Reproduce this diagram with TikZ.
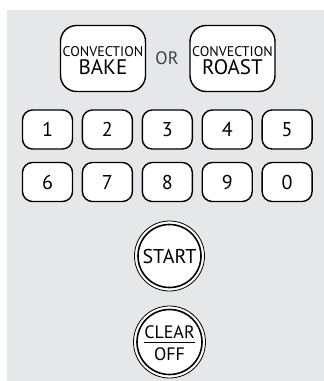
\documentclass[tikz,border=0pt]{standalone}
\usepackage{fontspec}
\setmainfont{PT Sans}
\definecolor{panel}{HTML}{E6E7E8}
\definecolor{ortext}{HTML}{404041}

\begin{document}
\begin{tikzpicture}[
    x=1pt, y=-1pt,
    bigkey/.style={draw, rectangle, rounded corners=16pt, fill=white, line width=1.4pt, minimum width=85pt, minimum height=66pt, inner sep=0pt},
    smalltext/.style={inner sep=0pt, font=\fontsize{14}{14}\selectfont},
    keytext/.style={inner sep=0pt, font=\fontsize{21}{21}\selectfont},
    numkey/.style={draw, rectangle, rounded corners=10pt, fill=white, line width=1.4pt, minimum width=50pt, minimum height=39pt, font=\fontsize{20}{20}\selectfont},
    roundkey/.style={draw, circle, fill=white, line width=0.8pt, minimum size=70pt, inner sep=0pt},
    ring/.style={draw, circle, line width=1.6pt, minimum size=63pt}
]
    \useasboundingbox (0,0) rectangle (324,381);
    \fill[panel] (7,10) rectangle (324,381);

    % convection keys
    \node[bigkey] (bake) at (103,58.5) {};
    \node[smalltext] (bakeconv) at (103,51.5) {CONVECTION};
    \node[keytext] (baketext) at (103,67.5) {BAKE};
    \node[font=\fontsize{18}{18}\selectfont, text=ortext] (or) at (167,58) {OR};
    \node[bigkey] (roast) at (232.5,58.5) {};
    \node[smalltext] (roastconv) at (232.5,51.5) {CONVECTION};
    \node[keytext] (roasttext) at (232.5,67.5) {ROAST};

    % number pad
    \foreach \d [count=\i from 0] in {1,2,3,4,5}
        \node[numkey] (key\d) at (47.5+59.9*\i,129.5) {\d};
    \foreach \d [count=\i from 0] in {6,7,8,9,0}
        \node[numkey] (key\d) at (47.5+59.9*\i,182) {\d};

    % start and clear
    \node[roundkey] (start) at (169.5,256) {};
    \node[ring] (startring) at (start) {};
    \node[keytext, font=\fontsize{20}{20}\selectfont] (starttext) at (start) {START};
    \node[roundkey, minimum size=72pt] (clear) at (169.5,342) {};
    \node[ring, minimum size=65pt] (clearring) at (clear) {};
    \node[keytext, font=\fontsize{18}{18}\selectfont] (cleartext) at (169.5,332) {CLEAR};
    \node[keytext, font=\fontsize{18}{18}\selectfont] (offtext) at (169.5,354) {OFF};
    \draw[line width=1.2pt] (cleartext.south west) ++(0,3.5) coordinate (ul) -- (ul -| cleartext.south east);

\end{tikzpicture}
\end{document}
